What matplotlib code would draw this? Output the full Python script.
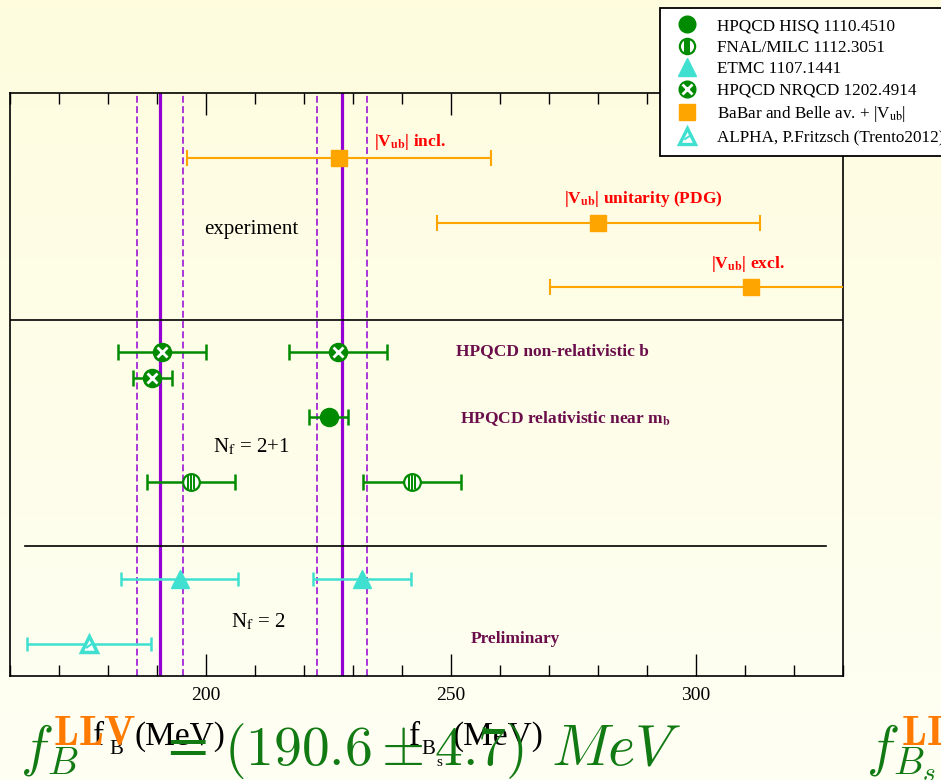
import numpy as np
import matplotlib.pyplot as plt
from matplotlib.lines import Line2D
from matplotlib.path import Path
from matplotlib.ticker import MultipleLocator, NullLocator

plt.rcParams['font.family'] = ['Liberation Serif', 'DejaVu Serif']
plt.rcParams['mathtext.fontset'] = 'stix'

# averages shown as vertical bands (MeV)
fb_avg, fb_avg_err = 190.6, 4.7
fbs_avg, fbs_avg_err = 227.7, 5.1

# experiment (BaBar and Belle av. + |Vub|)
exp_names = ['incl.', 'unitarity (PDG)', 'excl.']
exp_row = [8, 7, 6]
exp_val = [227.2, 280.1, 311.2]
exp_err = [31.0, 33.0, 41.0]

# lattice results
nrqcd_row = [5, 4.6, 5]
nrqcd_val = [191, 189, 227]
nrqcd_err = [9, 4, 10]

hisq_row = [4]
hisq_val = [225]
hisq_err = [4]

fnal_row = [3, 3]
fnal_val = [197, 242]
fnal_err = [9, 10]

etmc_row = [1.5, 1.5]
etmc_val = [194.6, 231.8]
etmc_err = [12, 10]

alpha_row = [0.5]
alpha_val = [176.1]
alpha_err = [12.7]

# colours
green = '#008a00'
turq = '#40e0d0'
orange = '#ffa500'
purple = '#9400d3'
maroon = '#6a0d4a'

W, H = 941, 780
fig = plt.figure(figsize=(W / 100, H / 100), dpi=100)

# pale yellow slide background
bg = fig.add_axes([0, 0, 1, 1], zorder=-5)
grad = np.linspace(0, 1, 256).reshape(-1, 1)
top_c = np.array([255, 252, 222]) / 255
bot_c = np.array([254, 255, 244]) / 255
img = top_c[None, None, :] * (1 - grad[:, :, None]) + bot_c[None, None, :] * grad[:, :, None]
bg.imshow(img, aspect='auto', extent=[0, 1, 0, 1])
bg.axis('off')

ax = fig.add_axes([10 / W, 104 / H, 833 / W, 583 / H])
ax.set_facecolor('none')
ax.set_xlim(160, 330)
ax.set_ylim(0, 9)

# vertical bands
for c, e in [(fb_avg, fb_avg_err), (fbs_avg, fbs_avg_err)]:
    ax.axvline(c, color=purple, lw=2.3, zorder=1)
    ax.axvline(c - e, color=purple, lw=1.1, dashes=(4.5, 2.2), zorder=1)
    ax.axvline(c + e, color=purple, lw=1.1, dashes=(4.5, 2.2), zorder=1)

# separators
ax.plot([160, 330], [5.5, 5.5], color='black', lw=1.2)
ax.plot([163, 326.6], [2, 2], color='black', lw=1.2)

# marker paths
stripe_verts = []
stripe_codes = []
for sx in [-0.35, 0.0, 0.35]:
    h = np.sqrt(1 - sx ** 2)
    stripe_verts += [(sx, -h), (sx, h)]
    stripe_codes += [Path.MOVETO, Path.LINETO]
stripes = Path(stripe_verts, stripe_codes)
slash = Path([(-0.5, -0.5), (0.5, 0.2)], [Path.MOVETO, Path.LINETO])

# error bars
ax.errorbar(exp_val, exp_row, xerr=exp_err, fmt='none', ecolor=orange,
            elinewidth=1.5, capsize=5.8, capthick=1.5, zorder=3)
ax.plot(exp_val, exp_row, 's', color=orange, ms=11, zorder=4)

for v, r, e in [(nrqcd_val, nrqcd_row, nrqcd_err), (hisq_val, hisq_row, hisq_err),
                (fnal_val, fnal_row, fnal_err)]:
    ax.errorbar(v, r, xerr=e, fmt='none', ecolor=green, elinewidth=1.8,
                capsize=5.8, capthick=1.8, zorder=3)
for v, r, e in [(etmc_val, etmc_row, etmc_err), (alpha_val, alpha_row, alpha_err)]:
    ax.errorbar(v, r, xerr=e, fmt='none', ecolor=turq, elinewidth=1.8,
                capsize=5.2, capthick=1.8, zorder=3)

# markers
ax.plot(nrqcd_val, nrqcd_row, 'o', color=green, ms=13, zorder=4)
ax.plot(nrqcd_val, nrqcd_row, 'x', color='white', ms=7.5, mew=2.0, zorder=5)
ax.plot(hisq_val, hisq_row, 'o', color=green, ms=13, zorder=4)
ax.plot(fnal_val, fnal_row, 'o', mfc='white', mec=green, mew=1.6, ms=12, zorder=4)
ax.plot(fnal_val, fnal_row, marker=stripes, ls='none', mfc='none', mec=green,
        mew=1.4, ms=11, zorder=5)
ax.plot(etmc_val, etmc_row, '^', color=turq, ms=13, zorder=4)
ax.plot(alpha_val, alpha_row, '^', mfc='white', mec=turq, mew=2.5, ms=12, zorder=4)
ax.plot(alpha_val, alpha_row, marker=slash, ls='none', mec=turq, mew=1.5, ms=5, zorder=5)

# annotations
red_kw = dict(color='red', fontsize=12.5, fontweight='bold')
ax.text(234.2, 8.25, '|V$_\\mathbf{ub}$| ' + exp_names[0], va='center', **red_kw)
ax.text(273.0, 7.37, '|V$_\\mathbf{ub}$| ' + exp_names[1], va='center', **red_kw)
ax.text(303.1, 6.36, '|V$_\\mathbf{ub}$| ' + exp_names[2], va='center', **red_kw)
ax.text(199.6, 6.9, 'experiment', fontsize=15, va='center')
mar_kw = dict(color=maroon, fontsize=12.5, fontweight='bold', va='center')
ax.text(251.1, 5.02, 'HPQCD non-relativistic b', **mar_kw)
ax.text(251.9, 3.98, 'HPQCD relativistic near m$_\\mathbf{b}$', **mar_kw)
ax.text(254.0, 0.57, 'Preliminary', **mar_kw)
ax.text(201.4, 3.53, 'N$_\\mathrm{f}$ = 2+1', fontsize=15, va='center')
ax.text(205.1, 0.83, 'N$_\\mathrm{f}$ = 2', fontsize=15, va='center')

# axes styling
ax.xaxis.set_major_locator(MultipleLocator(50))
ax.xaxis.set_minor_locator(MultipleLocator(10))
ax.yaxis.set_major_locator(NullLocator())
ax.tick_params(axis='x', which='both', direction='in', top=True, width=1)
ax.tick_params(axis='x', which='major', length=16, labelsize=14, pad=8)
ax.tick_params(axis='x', which='minor', length=8)
for s in ax.spines.values():
    s.set_linewidth(1.2)

# legend
handles = [
    Line2D([], [], marker='o', ls='none', color=green, ms=12),
    (Line2D([], [], marker='o', ls='none', mfc='white', mec=green, mew=1.6, ms=11),
     Line2D([], [], marker=stripes, ls='none', mfc='none', mec=green, mew=1.4, ms=10)),
    Line2D([], [], marker='^', ls='none', color=turq, ms=13),
    (Line2D([], [], marker='o', ls='none', color=green, ms=12),
     Line2D([], [], marker='x', ls='none', color='white', ms=6.5, mew=2)),
    Line2D([], [], marker='s', ls='none', color=orange, ms=11),
    (Line2D([], [], marker='^', ls='none', mfc='white', mec=turq, mew=2.4, ms=12),
     Line2D([], [], marker=slash, ls='none', mec=turq, mew=1.4, ms=4.5)),
]
labels = ['HPQCD HISQ 1110.4510', 'FNAL/MILC 1112.3051', 'ETMC 1107.1441',
          'HPQCD NRQCD 1202.4914', 'BaBar and Belle av. + |V$_\\mathrm{ub}$|',
          'ALPHA, P.Fritzsch (Trento2012)']
leg = fig.legend(handles, labels, loc='upper left', bbox_to_anchor=(660 / W, 1 - 8 / H),
                 fontsize=12.3, frameon=True, fancybox=False, edgecolor='black',
                 framealpha=1, handlelength=2.0, handletextpad=0.75, borderpad=0.6,
                 labelspacing=0.32, borderaxespad=0)
leg.get_frame().set_linewidth(1.3)

# axis labels drawn over the slide text
lab_y = 1 - 745 / H
fig.text(93 / W, lab_y, 'f', fontsize=24, va='baseline')
fig.text(109 / W, 1 - 754 / H, 'B', fontsize=15, va='baseline')
fig.text(134 / W, lab_y, '(MeV)', fontsize=24, va='baseline')
fig.text(409 / W, lab_y, 'f', fontsize=24, va='baseline')
fig.text(421 / W, 1 - 754 / H, 'B', fontsize=15, va='baseline')
fig.text(436 / W, 1 - 766 / H, 's', fontsize=11, va='baseline')
fig.text(453 / W, lab_y, '(MeV)', fontsize=24, va='baseline')

# slide text underneath
big_green = '#127a12'
big_orange = '#ff7a00'
base_y = 1 - 765 / H
sup_y = 1 - 745 / H
fig.text(20 / W, base_y, '$f_B$', fontsize=40, color=big_green,
         math_fontfamily='cm', va='baseline')
fig.text(53 / W, sup_y, '$\\mathbf{LLV}$', fontsize=30, color=big_orange,
         math_fontfamily='cm', va='baseline')
fig.text(164 / W, base_y, '=', fontsize=40, color=big_green,
         math_fontfamily='cm', family='DejaVu Serif', va='baseline')
fig.text(224 / W, base_y, '$(190.6 \\pm 4.7)$', fontsize=40,
         color=big_green, math_fontfamily='cm', va='baseline')
fig.text(551 / W, base_y, '$MeV$', fontsize=42, color=big_green,
         math_fontfamily='cm', va='baseline')
fig.text(866 / W, base_y, '$f_{B_s}$', fontsize=40, color=big_green,
         math_fontfamily='cm', va='baseline')
fig.text(901 / W, sup_y, '$\\mathbf{LLV}$', fontsize=30, color=big_orange,
         math_fontfamily='cm', va='baseline')

fig.savefig('out.png', dpi=100)
